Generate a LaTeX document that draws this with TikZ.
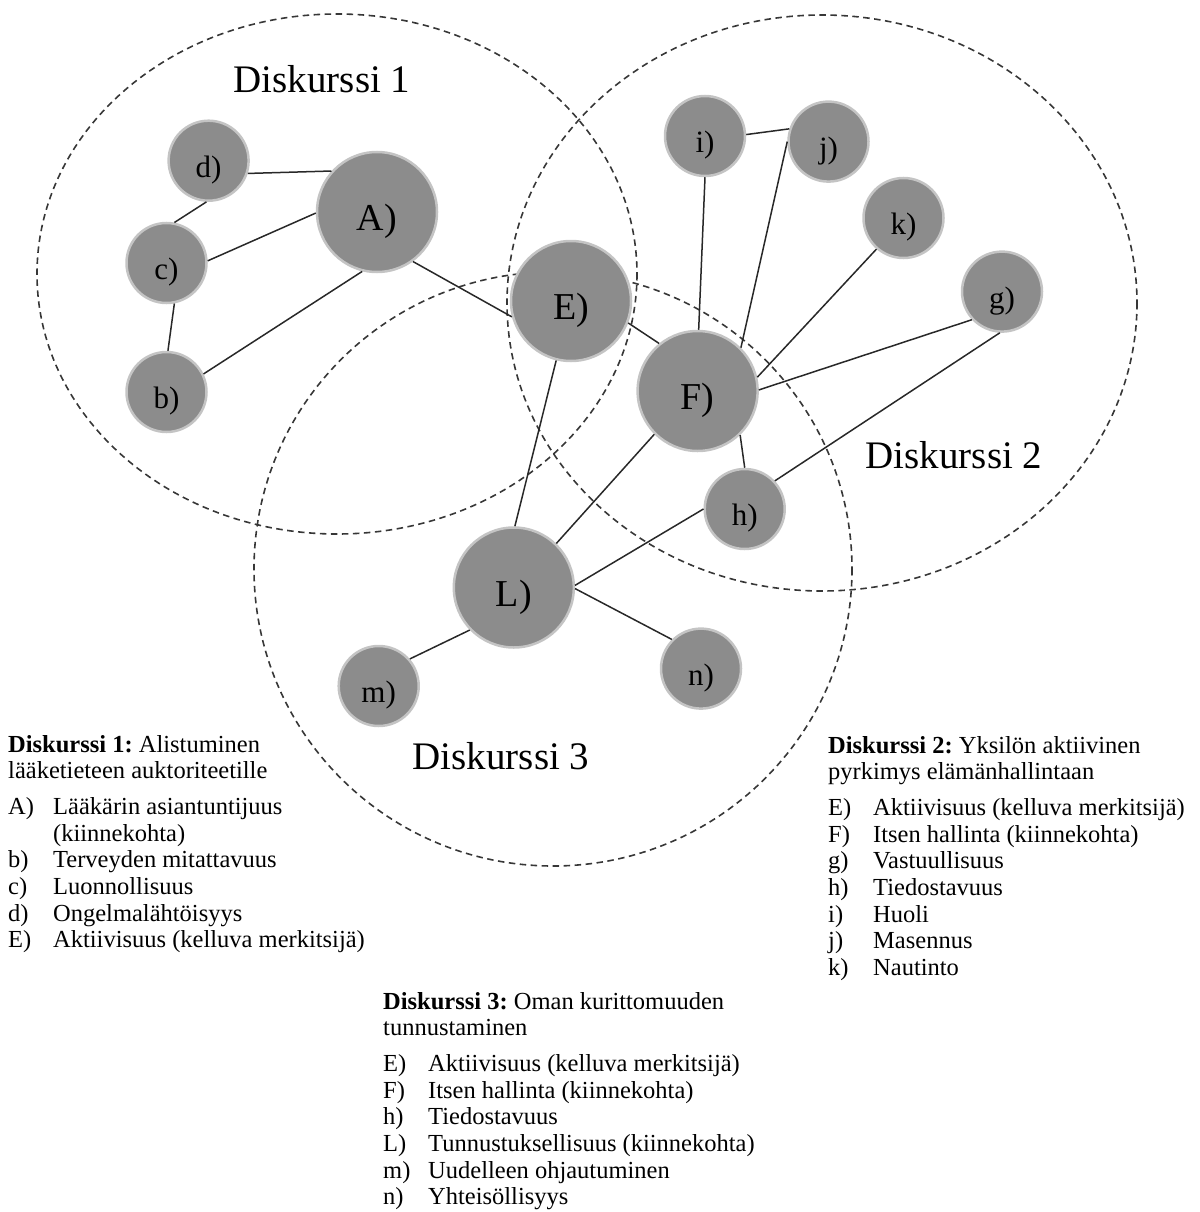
\documentclass[tikz,border=0pt]{standalone}
\usepackage{fontspec}
\setmainfont{Liberation Serif}
\usepackage{array}

\begin{document}
\begin{tikzpicture}[
	x=1pt, y=-1pt,
	area/.style={draw=dashc, line width=1.6pt, dash pattern=on 6.5pt off 4.5pt},
	bignode/.style={circle, fill=nodec, draw=rimc, line width=2.5pt, minimum size=120pt, inner sep=0pt, text height=37pt, text depth=0pt, font=\fontsize{38}{40}\selectfont},
	smallnode/.style={circle, fill=nodec, draw=rimc, line width=2.5pt, minimum size=80pt, inner sep=0pt, text height=33pt, text depth=0pt, font=\fontsize{31}{33}\selectfont},
	link/.style={draw=linkc, line width=1.5pt},
	areatitle/.style={font=\fontsize{39}{41}\selectfont},
	legend/.style={anchor=base west, inner sep=0pt, font=\fontsize{24.5}{26.7}\selectfont\frenchspacing}
	]
	\useasboundingbox (0,0) rectangle (1199,1212);

	% Define colors
	\definecolor{nodec}{RGB}{140,140,140}   % node fill
	\definecolor{rimc}{RGB}{196,196,196}    % node rim
	\definecolor{linkc}{RGB}{40,40,40}      % connectors
	\definecolor{dashc}{RGB}{55,55,55}      % discourse areas

	% Discourse areas
	\draw[area] (337,274) ellipse [x radius=300, y radius=260];
	\draw[area] (822,303) ellipse [x radius=315, y radius=288];
	\draw[area] (553,569) ellipse [x radius=299, y radius=297];

	% Area titles
	\node[areatitle] (t1) at (322,79) {Diskurssi 1};
	\node[areatitle] (t2) at (954,455) {Diskurssi 2};
	\node[areatitle] (t3) at (501,756) {Diskurssi 3};

	% Discourse 1 nodes
	\node[bignode] (A) at (377,212) {A)};
	\node[smallnode] (b) at (166.5,392) {b)};
	\node[smallnode] (c) at (166.5,263) {c)};
	\node[smallnode] (d) at (208.6,160.7) {d)};

	% Shared nodes
	\node[bignode] (E) at (571,301) {E)};
	\node[bignode] (F) at (697.6,391) {F)};
	\node[bignode] (L) at (513.8,587.5) {L)};

	% Discourse 2 nodes
	\node[smallnode] (g) at (1002,291.6) {g)};
	\node[smallnode] (h) at (744.7,509) {h)};
	\node[smallnode] (i) at (705,136) {i)};
	\node[smallnode] (j) at (828.5,141.6) {j)};
	\node[smallnode] (k) at (903.5,218) {k)};

	% Discourse 3 nodes
	\node[smallnode] (m) at (378.7,686) {m)};
	\node[smallnode] (n) at (701,668.6) {n)};

	% Connectors
	\draw[link] (d.-18) -- (A.138);
	\draw[link] (d.-93) -- (c.79);
	\draw[link] (c.3) -- (A.181);
	\draw[link] (c.-79) -- (b.88);
	\draw[link] (b.26) -- (A.-104);
	\draw[link] (A.-54) -- (E.-165);
	\draw[link] (E.-104) -- (L.89);
	\draw[link] (E.-21) -- (F.129);
	\draw[link] (i.-90) -- (F.89);
	\draw[link] (i.2) -- (j.162);
	\draw[link] (j.180) -- (F.45);
	\draw[link] (k.-131) -- (F.13);
	\draw[link] (g.-137) -- (F.1);
	\draw[link] (g.-93) -- (h.43);
	\draw[link] (F.-46) -- (h.90);
	\draw[link] (F.-135) -- (L.46);
	\draw[link] (h.180) -- (L.2);
	\draw[link] (L.-1) -- (n.135);
	\draw[link] (L.-136) -- (m.41);

	% Legends
	\node[legend] (leg1) at (8,752) {\begin{tabular}[t]{@{}p{45pt}@{}l@{}}
		\multicolumn{2}{@{}l@{}}{\textbf{Diskurssi 1:} Alistuminen}\\
		\multicolumn{2}{@{}l@{}}{lääketieteen auktoriteetille}\\[9pt]
		A) & Lääkärin asiantuntijuus\\
		 & (kiinnekohta)\\
		b) & Terveyden mitattavuus\\
		c) & Luonnollisuus\\
		d) & Ongelmalähtöisyys\\
		E) & Aktiivisuus (kelluva merkitsijä)
	\end{tabular}};
	\node[legend] (leg2) at (828,753) {\begin{tabular}[t]{@{}p{45pt}@{}l@{}}
		\multicolumn{2}{@{}l@{}}{\textbf{Diskurssi 2:} Yksilön aktiivinen}\\
		\multicolumn{2}{@{}l@{}}{pyrkimys elämänhallintaan}\\[9pt]
		E) & Aktiivisuus (kelluva merkitsijä)\\
		F) & Itsen hallinta (kiinnekohta)\\
		g) & Vastuullisuus\\
		h) & Tiedostavuus\\
		i) & Huoli\\
		j) & Masennus\\
		k) & Nautinto
	\end{tabular}};
	\node[legend] (leg3) at (383,1009) {\begin{tabular}[t]{@{}p{45pt}@{}l@{}}
		\multicolumn{2}{@{}l@{}}{\textbf{Diskurssi 3:} Oman kurittomuuden}\\
		\multicolumn{2}{@{}l@{}}{tunnustaminen}\\[9pt]
		E) & Aktiivisuus (kelluva merkitsijä)\\
		F) & Itsen hallinta (kiinnekohta)\\
		h) & Tiedostavuus\\
		L) & Tunnustuksellisuus (kiinnekohta)\\
		m) & Uudelleen ohjautuminen\\
		n) & Yhteisöllisyys
	\end{tabular}};
\end{tikzpicture}
\end{document}
